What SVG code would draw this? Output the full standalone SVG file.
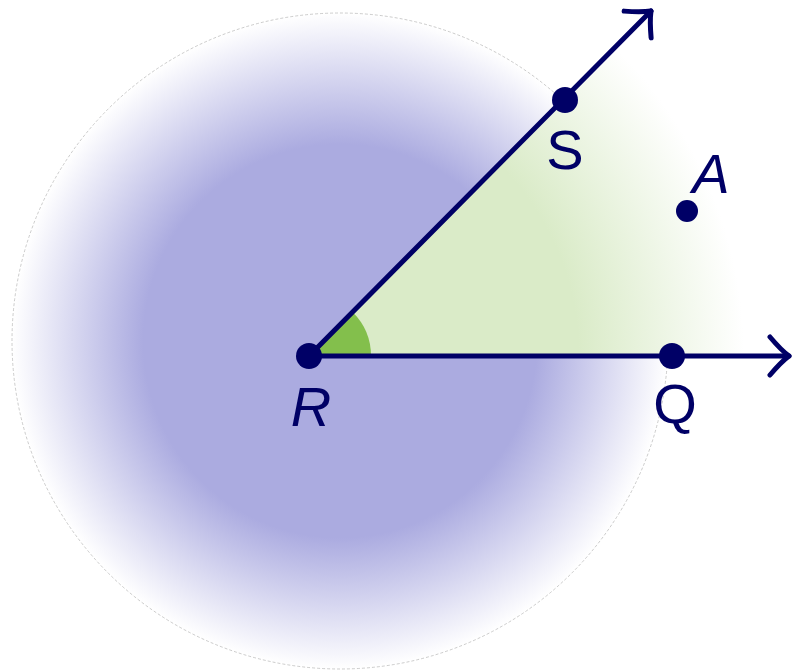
<svg xmlns="http://www.w3.org/2000/svg" width="792" height="670" viewBox="0 0 792 670">
<defs>
<radialGradient id="purple" gradientUnits="userSpaceOnUse" cx="340" cy="341" r="328">
<stop offset="0" stop-color="#ABABE0"/>
<stop offset="0.6" stop-color="#ABABE0"/>
<stop offset="1" stop-color="#FFFFFF"/>
</radialGradient>
<radialGradient id="green" gradientUnits="userSpaceOnUse" cx="309" cy="356" r="435">
<stop offset="0" stop-color="#DAEBC8"/>
<stop offset="0.62" stop-color="#DAEBC8"/>
<stop offset="1" stop-color="#FFFFFF"/>
</radialGradient>
<marker id="arrow" markerUnits="userSpaceOnUse" viewBox="-30 -25 36 50" refX="0" refY="0" markerWidth="36" markerHeight="50" orient="auto" overflow="visible">
<path d="M -19 -19 Q -8 -6 0 0 Q -8 6 -19 19" fill="none" stroke="#000066" stroke-width="5" stroke-linecap="round" stroke-linejoin="round"/>
</marker>
<style>
.ray{stroke:#000066;stroke-width:5;fill:none;stroke-linecap:round}
.pt{fill:#000066}
.lbl{font-family:"Liberation Sans",Arial,sans-serif;font-size:56px;fill:#000066;text-anchor:middle}
.it{font-style:italic}
</style>
</defs>
<circle id="disc" cx="340" cy="341" r="328" fill="url(#purple)" stroke="#AAAAAA" stroke-width="0.6" stroke-dasharray="3 2"/>
<polygon id="wedge" points="309,356 792,356 792,0 665,0" fill="url(#green)"/>
<path id="angle" d="M309 356 L371 356 A62 62 0 0 0 352.8 312.2 Z" fill="#83BF4C"/>
<g id="connectors">
<line class="ray" x1="309" y1="356" x2="651" y2="11" marker-end="url(#arrow)"/>
<line class="ray" x1="309" y1="356" x2="789" y2="356" marker-end="url(#arrow)"/>
</g>
<g id="R"><circle class="pt" cx="309" cy="356" r="13"/><text class="lbl it" x="311" y="426">R</text></g>
<g id="S"><circle class="pt" cx="565" cy="100" r="13"/><text class="lbl" x="565" y="169">S</text></g>
<g id="Q"><circle class="pt" cx="672" cy="356" r="13"/><text class="lbl" x="675" y="423">Q</text></g>
<g id="A"><circle class="pt" cx="687" cy="211" r="11"/><text class="lbl it" x="711" y="193">A</text></g>
</svg>
